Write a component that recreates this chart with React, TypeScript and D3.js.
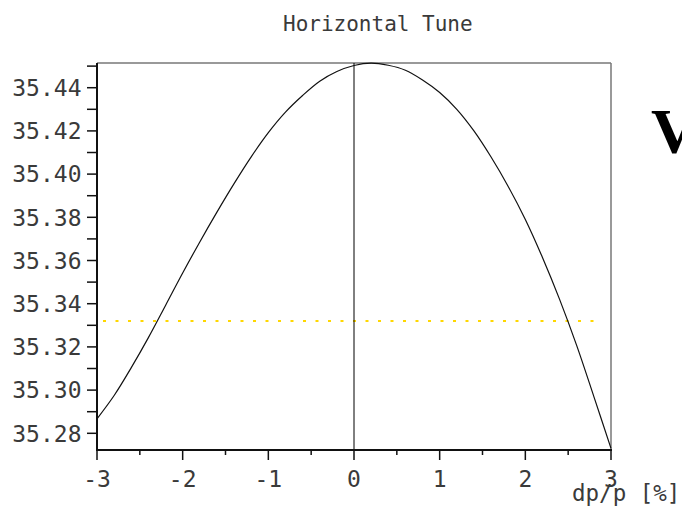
import React from "react";
import * as d3 from "d3";

// dp/p [%] and horizontal tune
const dpValues = [
  -3.0, -2.8, -2.6, -2.4, -2.2, -2.0, -1.8, -1.6, -1.4, -1.2, -1.0, -0.8, -0.6, -0.4, -0.2,
  0.0, 0.2, 0.4, 0.6, 0.8, 1.0, 1.2, 1.4, 1.6, 1.8, 2.0, 2.2, 2.4, 2.6, 2.8, 3.0,
];
const tuneValues = [
  35.2867, 35.2975, 35.3104, 35.3243, 35.3392, 35.3542, 35.3686, 35.3824, 35.3956, 35.408,
  35.4192, 35.4287, 35.4364, 35.443, 35.4475, 35.4503, 35.4514, 35.4504, 35.4481, 35.4436,
  35.4378, 35.43, 35.42, 35.4079, 35.3943, 35.379, 35.3614, 35.342, 35.3206, 35.297, 35.273,
];

// reference tune (yellow dotted)
const refTune = 35.332;
const refRange = [-2.93, 2.9];

const xMajor = [-3, -2, -1, 0, 1, 2, 3];
const xMinor = [-2.5, -1.5, -0.5, 0.5, 1.5, 2.5];
const yMajor = [35.28, 35.3, 35.32, 35.34, 35.36, 35.38, 35.4, 35.42, 35.44];
const yMinor = [35.29, 35.31, 35.33, 35.35, 35.37, 35.39, 35.41, 35.43, 35.45];

const W = 682;
const H = 513;
const left = 97;
const right = 611;
const top = 63;
const bottom = 450;

const mono = "'DejaVu Sans Mono', monospace";
const ink = "#3a3a3a";

export default function App() {
  const x = d3.scaleLinear().domain([-3, 3]).range([left, right]);
  const y = d3.scaleLinear().domain([35.27227, 35.45144]).range([bottom, top]);

  const pts = dpValues.map((d, i) => [d, tuneValues[i]] as [number, number]);
  const line = d3
    .line<[number, number]>()
    .x((d) => x(d[0]))
    .y((d) => y(d[1]))
    .curve(d3.curveCatmullRom.alpha(0.5));

  return (
    <svg
      width={W}
      height={H}
      style={{ position: "absolute", left: 0, top: 0, background: "#fff" }}
    >
      <text x={283} y={31} fontFamily={mono} fontSize={21} fill={ink}>
        Horizontal Tune
      </text>

      {/* frame */}
      <line x1={left} x2={right} y1={top} y2={top} stroke="#777" strokeWidth={1.5} />
      <line x1={right} x2={right} y1={top} y2={bottom} stroke="#777" strokeWidth={1.5} />

      {/* reference line */}
      <line
        x1={x(refRange[0])}
        x2={x(refRange[1])}
        y1={y(refTune)}
        y2={y(refTune)}
        stroke="#FFD700"
        strokeWidth={2}
        strokeDasharray="3 9.5"
      />

      {/* zero line */}
      <line x1={x(0)} x2={x(0)} y1={top} y2={bottom} stroke="#000" strokeWidth={1} />

      <path d={line(pts) ?? ""} fill="none" stroke="#111" strokeWidth={1.2} />

      {/* y axis */}
      <line x1={left} x2={left} y1={top} y2={bottom + 1} stroke="#111" strokeWidth={2} />
      {yMajor.concat(yMinor).map((v) => (
        <line key={"yt" + v} x1={left - 10} x2={left} y1={y(v)} y2={y(v)} stroke="#111" strokeWidth={1.5} />
      ))}
      {yMajor.map((v) => (
        <text
          key={"yl" + v}
          x={81.5}
          y={y(v)}
          dy="0.36em"
          textAnchor="end"
          fontFamily={mono}
          fontSize={23}
          fill={ink}
        >
          {v.toFixed(2)}
        </text>
      ))}

      {/* x axis */}
      <line x1={left - 1} x2={right + 1} y1={bottom} y2={bottom} stroke="#111" strokeWidth={2} />
      {xMajor.map((v) => (
        <line key={"xt" + v} x1={x(v)} x2={x(v)} y1={bottom} y2={bottom + 10} stroke="#111" strokeWidth={1.5} />
      ))}
      {xMinor.map((v) => (
        <line key={"xm" + v} x1={x(v)} x2={x(v)} y1={bottom} y2={bottom + 5} stroke="#111" strokeWidth={1.5} />
      ))}
      {xMajor.map((v) => (
        <text
          key={"xl" + v}
          x={x(v)}
          y={487}
          textAnchor="middle"
          fontFamily={mono}
          fontSize={23}
          fill={ink}
        >
          {v < 0 ? "-" + Math.abs(v) : String(v)}
        </text>
      ))}
      <text x={572} y={501} fontFamily={mono} fontSize={22.5} fill={ink}>
        dp/p [%]
      </text>

      {/* neighbouring panel title, cut off at the edge */}
      <text
        x={651}
        y={153}
        fontFamily="'Liberation Serif', serif"
        fontWeight="bold"
        fontSize={64}
        fill="#000"
      >
        V
      </text>
    </svg>
  );
}
